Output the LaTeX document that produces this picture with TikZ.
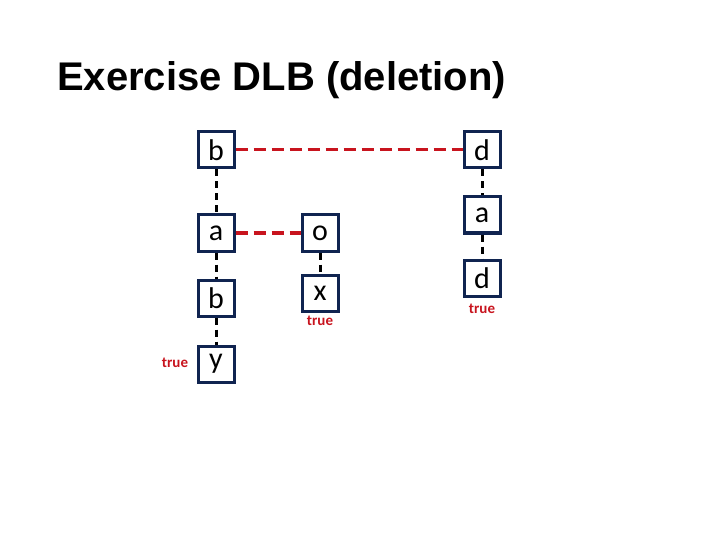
\documentclass[tikz,border=0pt]{standalone}
\usepackage{fontspec}
\setmainfont{Carlito}
\newfontfamily\titlefont{Liberation Sans}
\definecolor{navy}{RGB}{16,36,80}
\definecolor{tred}{RGB}{200,20,30}
\begin{document}
\begin{tikzpicture}[x=1pt,y=-1pt,
  bx/.style={draw=navy,line width=3pt,minimum size=36pt,inner sep=0pt,fill=white,font=\fontsize{30}{30}\selectfont},
  tl/.style={text=tred,font=\bfseries\fontsize{15}{15}\selectfont,inner sep=0pt},
  bl/.style={draw=black,line width=3pt,dash pattern=on 7pt off 5pt},
  rl/.style={draw=tred,line width=3pt,dash pattern=on 12pt off 6pt}]
\useasboundingbox (0,0) rectangle (720,540);
\node[anchor=west,inner sep=0pt,font=\titlefont\bfseries\fontsize{40}{40}\selectfont] (title) at (57,80) {Exercise DLB (deletion)};
\node[bx] (b1) at (216,150) {b};
\node[bx] (a1) at (216,233) {a};
\node[bx] (b2) at (216,298) {b};
\node[bx] (y1) at (216,364) {y};
\node[bx] (o1) at (320,233) {o};
\node[bx] (x1) at (320,293) {x};
\node[bx] (d1) at (482,150) {d};
\node[bx] (a2) at (482,215) {a};
\node[bx] (d2) at (482,278) {d};
\node[tl] (t1) at (175,363) {true};
\node[tl] (t2) at (320,321) {true};
\node[tl] (t3) at (482,309) {true};
\draw[bl] (b1) -- (a1);
\draw[bl] (a1) -- (b2);
\draw[bl] (b2) -- (y1);
\draw[bl] (o1) -- (x1);
\draw[bl] (d1) -- (a2);
\draw[bl] (a2) -- (d2);
\draw[rl] (b1) -- (d1);
\draw[rl] (a1) -- (o1);
\end{tikzpicture}
\end{document}
